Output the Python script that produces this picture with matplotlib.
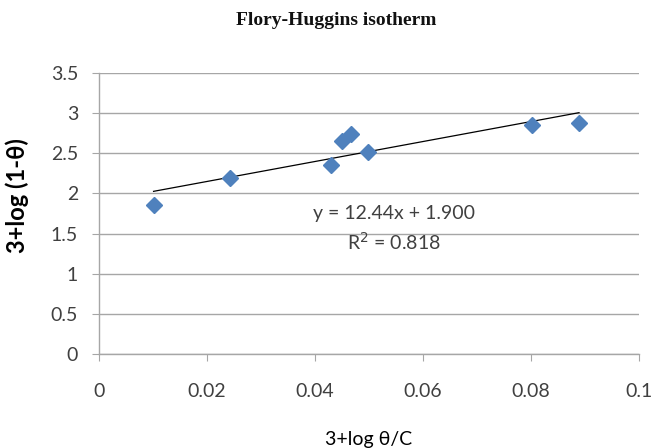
import numpy as np
import matplotlib
matplotlib.use("Agg")
import matplotlib.pyplot as plt

# data
x_vals = [0.0101, 0.0242, 0.0430, 0.0450, 0.0467, 0.0499, 0.0801, 0.0889]
y_vals = [1.85, 2.19, 2.36, 2.65, 2.74, 2.52, 2.85, 2.88]
slope = 12.44
intercept = 1.900
r2 = 0.818

x_ticks = [0, 0.02, 0.04, 0.06, 0.08, 0.1]
x_ticklabels = ["0", "0.02", "0.04", "0.06", "0.08", "0.1"]
y_ticks = [0, 0.5, 1, 1.5, 2, 2.5, 3, 3.5]
y_ticklabels = ["0", "0.5", "1", "1.5", "2", "2.5", "3", "3.5"]

fig = plt.figure(figsize=(6.54, 4.48), dpi=100)
ax = fig.add_axes([0.1514, 0.210, 0.8256, 0.627])

grid_col = "#a6a6a6"
ax.set_xlim(0, 0.1)
ax.set_ylim(0, 3.5)
ax.set_yticks(y_ticks)
ax.set_yticklabels(y_ticklabels)
ax.set_xticks(x_ticks)
ax.set_xticklabels(x_ticklabels)
ax.yaxis.grid(True, color=grid_col, linewidth=1.0)
ax.set_axisbelow(True)

for s in ["top", "right"]:
    ax.spines[s].set_visible(False)
for s in ["left", "bottom"]:
    ax.spines[s].set_color(grid_col)
    ax.spines[s].set_linewidth(1.0)

ax.tick_params(axis="both", direction="out", length=5, color=grid_col,
               labelsize=14, labelcolor="#404040")
ax.tick_params(axis="x", pad=16)
ax.tick_params(axis="y", pad=10)
for lab in ax.get_xticklabels() + ax.get_yticklabels():
    lab.set_family("Lato")

# trend line
xs = np.array([min(x_vals), max(x_vals)])
ax.plot(xs, slope * xs + intercept, color="black", linewidth=0.9, zorder=2)

ax.plot(x_vals, y_vals, linestyle="none", marker="D", markersize=8,
        color="#4f81bd", zorder=3)

ax.text(0.0546, 1.745, "y = 12.44x + 1.900", ha="center", va="center",
        fontsize=14, family="Lato", color="#404040")
ax.text(0.0546, 1.40, "R$^2$ = %.3f" % r2, ha="center", va="center",
        fontsize=14, family="Lato", color="#404040")

fig.text(0.514, 0.955, "Flory-Huggins isotherm", ha="center", va="center",
         fontsize=14, fontweight="bold", family="Liberation Serif",
         color="#111111")
ax.set_ylabel("3+log (1-θ)", fontsize=17, fontweight="bold", family="Lato")
ax.yaxis.set_label_coords(-0.130, 0.562)
ax.set_xlabel("3+log θ/C", fontsize=14, family="Lato", labelpad=22)

fig.savefig("out.png", dpi=100)
